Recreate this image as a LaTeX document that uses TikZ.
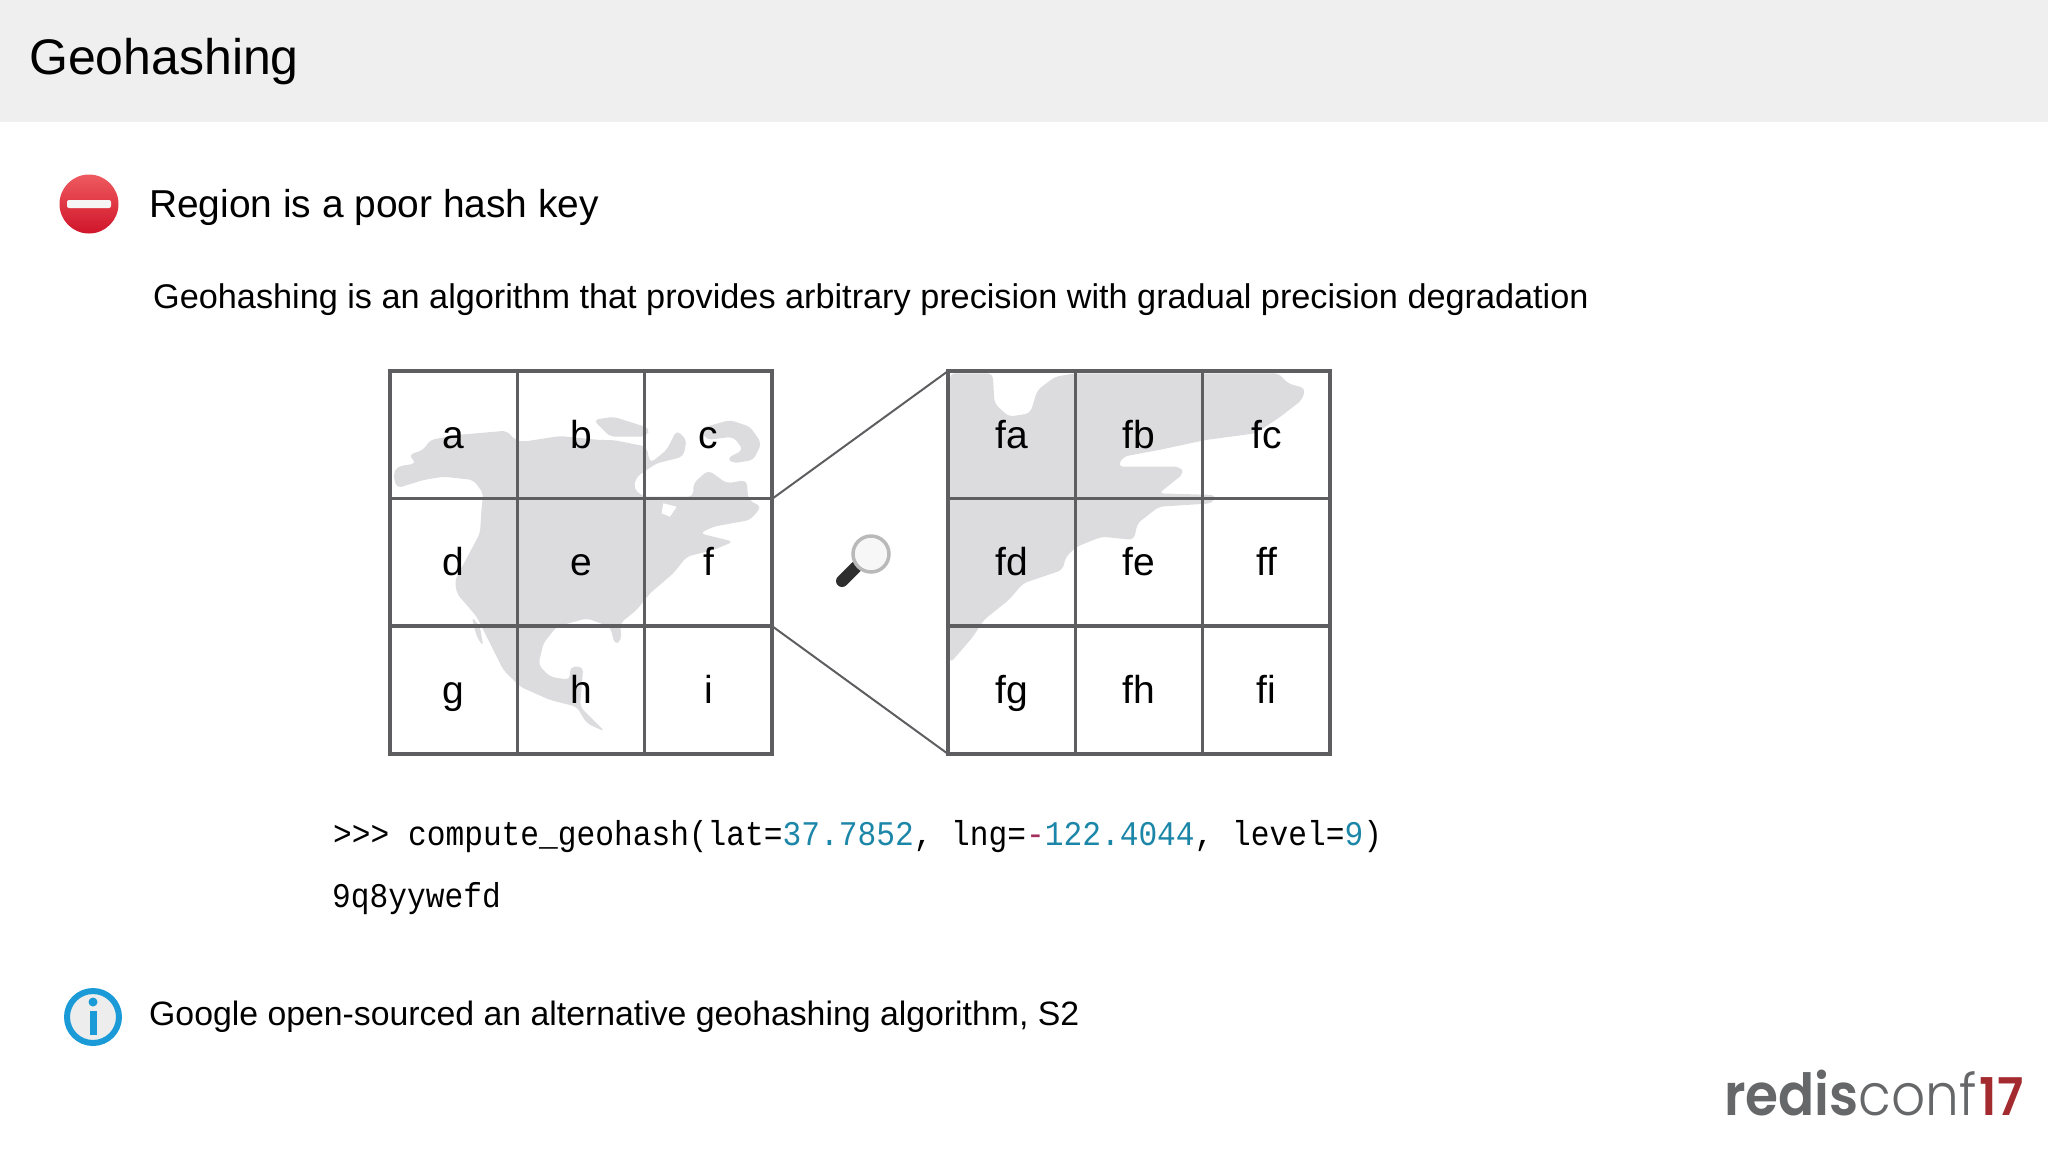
\documentclass[tikz,border=0pt]{standalone}
\usepackage{fontspec}
\setmainfont{Liberation Sans}
\newfontfamily\codefont[FakeStretch=0.902]{Liberation Mono}
\newfontfamily\logofont[UprightFont=* Light,BoldFont=* SemiBold,FakeStretch=0.92]{Poppins}
\definecolor{headbg}{HTML}{EFEFEF}
\definecolor{mapgray}{HTML}{DCDCDE}
\definecolor{gridcol}{HTML}{5E5E61}
\definecolor{numcol}{HTML}{1C86A8}
\definecolor{minuscol}{HTML}{A3305C}
\definecolor{infoblue}{HTML}{1A9BD7}
\definecolor{logogray}{HTML}{666769}
\definecolor{logored}{HTML}{A32A2E}
\definecolor{stoptop}{HTML}{EE5A5F}
\definecolor{stopbot}{HTML}{D0152A}
\tikzset{
  txt/.style={anchor=base west,inner sep=0pt,text=black},
  cell/.style={draw=gridcol,line width=3pt,outer sep=0pt,minimum width=127.5pt,minimum height=127.5pt,inner sep=0pt,
    text height=26pt,text depth=0pt,font=\fontsize{39}{39}\selectfont,text=black},
  outer/.style={draw=gridcol,line width=4pt},
  zoomline/.style={draw=gridcol,line width=2pt},
  land/.style={fill=mapgray,rounded corners=5pt},
  code/.style={txt,font=\codefont\fontsize{34.6}{40}\selectfont}
}
\newcommand{\num}[1]{\textcolor{numcol}{#1}}
\begin{document}
\begin{tikzpicture}[x=1pt,y=-1pt]
\useasboundingbox (0,0) rectangle (2048,1152);
\fill[headbg] (0,0) rectangle (2048,122);
\node[txt,font=\fontsize{50}{60}\selectfont] (title) at (29,74) {Geohashing};

% stop icon
\shade[top color=stoptop,bottom color=stopbot] (89,204) circle (29.5);
\fill[white!96!black,rounded corners=2pt] (67,200) rectangle (111,208);
\node[txt,font=\fontsize{38.9}{48}\selectfont] (head) at (149,217) {Region is a poor hash key};
\node[txt,font=\fontsize{34.25}{42}\selectfont] (sub) at (153,308) {Geohashing is an algorithm that provides arbitrary precision with gradual precision degradation};

% left map
\begin{scope}[shift={(380,360)},xscale=1/3,yscale=1/3]
\fill[land] (40,345)--(50,320)--(110,310)--(85,285)--(130,270)--(150,240)--(230,225)--(380,212)--(405,240)--(430,245)--(540,228)--(660,240)--(700,240)--(800,260)--(810,310)--(860,270)--(890,210)--(920,240)--(910,290)--(830,310)--(770,350)--(760,385)--(790,410)--(940,410)--(940,370)--(985,330)--(1040,370)--(1100,360)--(1105,420)--(1145,440)--(1110,480)--(1000,500)--(960,520)--(1060,545)--(1000,570)--(920,590)--(880,640)--(810,700)--(770,750)--(720,790)--(725,840)--(705,855)--(690,800)--(620,775)--(530,800)--(490,850)--(475,915)--(510,950)--(570,960)--(570,920)--(610,920)--(600,1040)--(640,1080)--(675,1115)--(620,1090)--(590,1040)--(510,1020)--(420,980)--(370,930)--(330,850)--(290,770)--(230,700)--(225,660)--(300,520)--(305,440)--(310,400)--(280,360)--(190,350)--(130,360)--(50,385)--cycle;
\fill[land] (275,770)--(300,800)--(310,860)--(290,830)--cycle;
\fill[land] (640,180)--(700,170)--(810,205)--(800,230)--(690,230)--cycle;
\fill[land] (960,205)--(1050,180)--(1110,200)--(1145,250)--(1120,300)--(1060,310)--(1040,295)--(1090,270)--(1060,230)--(980,240)--cycle;
\fill[white] (850,430)--(890,440)--(870,470)--(845,460)--cycle;
\end{scope}

% right map
\begin{scope}[shift={(780,360)},xscale=0.3575,yscale=1/3]
\fill[land] (475,40)--(595,40)--(600,130)--(640,170)--(700,160)--(720,90)--(770,50)--(825,40)--(1395,40)--(1420,70)--(1470,85)--(1460,120)--(1400,170)--(1330,220)--(1190,240)--(1060,270)--(960,290)--(945,320)--(1120,320)--(1130,340)--(1060,400)--(1220,405)--(1210,430)--(1060,440)--(1000,490)--(990,540)--(900,530)--(830,560)--(800,590)--(790,630)--(680,670)--(640,720)--(570,780)--(540,830)--(500,880)--(475,910)--cycle;
\end{scope}

% left grid
\node[cell] (a) at (453.5,435) {a};
\node[cell] (b) at (581,435) {b};
\node[cell] (c) at (708.5,435) {c};
\node[cell] (d) at (453.5,562) {d};
\node[cell] (e) at (581,562) {e};
\node[cell] (f) at (708.5,562) {f};
\node[cell] (g) at (453.5,690) {g};
\node[cell] (h) at (581,690) {h};
\node[cell] (i) at (708.5,690) {i};
\draw[outer] (a.north west) rectangle (i.south east);

% right grid
\node[cell] (fa) at (1011.5,435) {fa};
\node[cell] (fb) at (1139,435) {fb};
\node[cell] (fc) at (1266.5,435) {fc};
\node[cell] (fd) at (1011.5,562) {fd};
\node[cell] (fe) at (1139,562) {fe};
\node[cell] (ff) at (1266.5,562) {ff};
\node[cell] (fg) at (1011.5,690) {fg};
\node[cell] (fh) at (1139,690) {fh};
\node[cell] (fi) at (1266.5,690) {fi};
\draw[outer] (fa.north west) rectangle (fi.south east);

\draw[zoomline] (c.south east) -- (fa.north west);
\draw[zoomline] (i.north east) -- (fg.south west);

% magnifier
\draw[line width=12pt,line cap=round,black!82] (842,581) -- (856,567);
\draw[line width=6pt,gray!70] (858,565) -- (862,561);
\draw[line width=3.5pt,gray!55,fill=black!3] (871,554) circle (18);

% code
\node[code] (cmd) at (333,845) {>>> compute\_geohash(lat=\num{37.7852}, lng=\textcolor{minuscol}{-}\num{122.4044}, level=\num{9})};
\node[code] (out) at (332,907) {9q8yywefd};

% info icon
\draw[line width=6pt,draw=infoblue,fill=black!7] (93,1017) circle (26);
\fill[infoblue] (93,1002) circle (4.5);
\fill[infoblue] (89.5,1011) rectangle (96.5,1035);
\node[txt,font=\fontsize{33.8}{42}\selectfont] (note) at (149,1025) {Google open-sourced an alternative geohashing algorithm, S2};

% logo
\node[txt,font=\logofont\fontsize{58}{60}\selectfont,text=logogray] (logo) at (1724,1115) {\textbf{redis}conf\hspace{3pt}\textcolor{logored}{\fontsize{52}{60}\selectfont\textbf{17}}};
\end{tikzpicture}
\end{document}
